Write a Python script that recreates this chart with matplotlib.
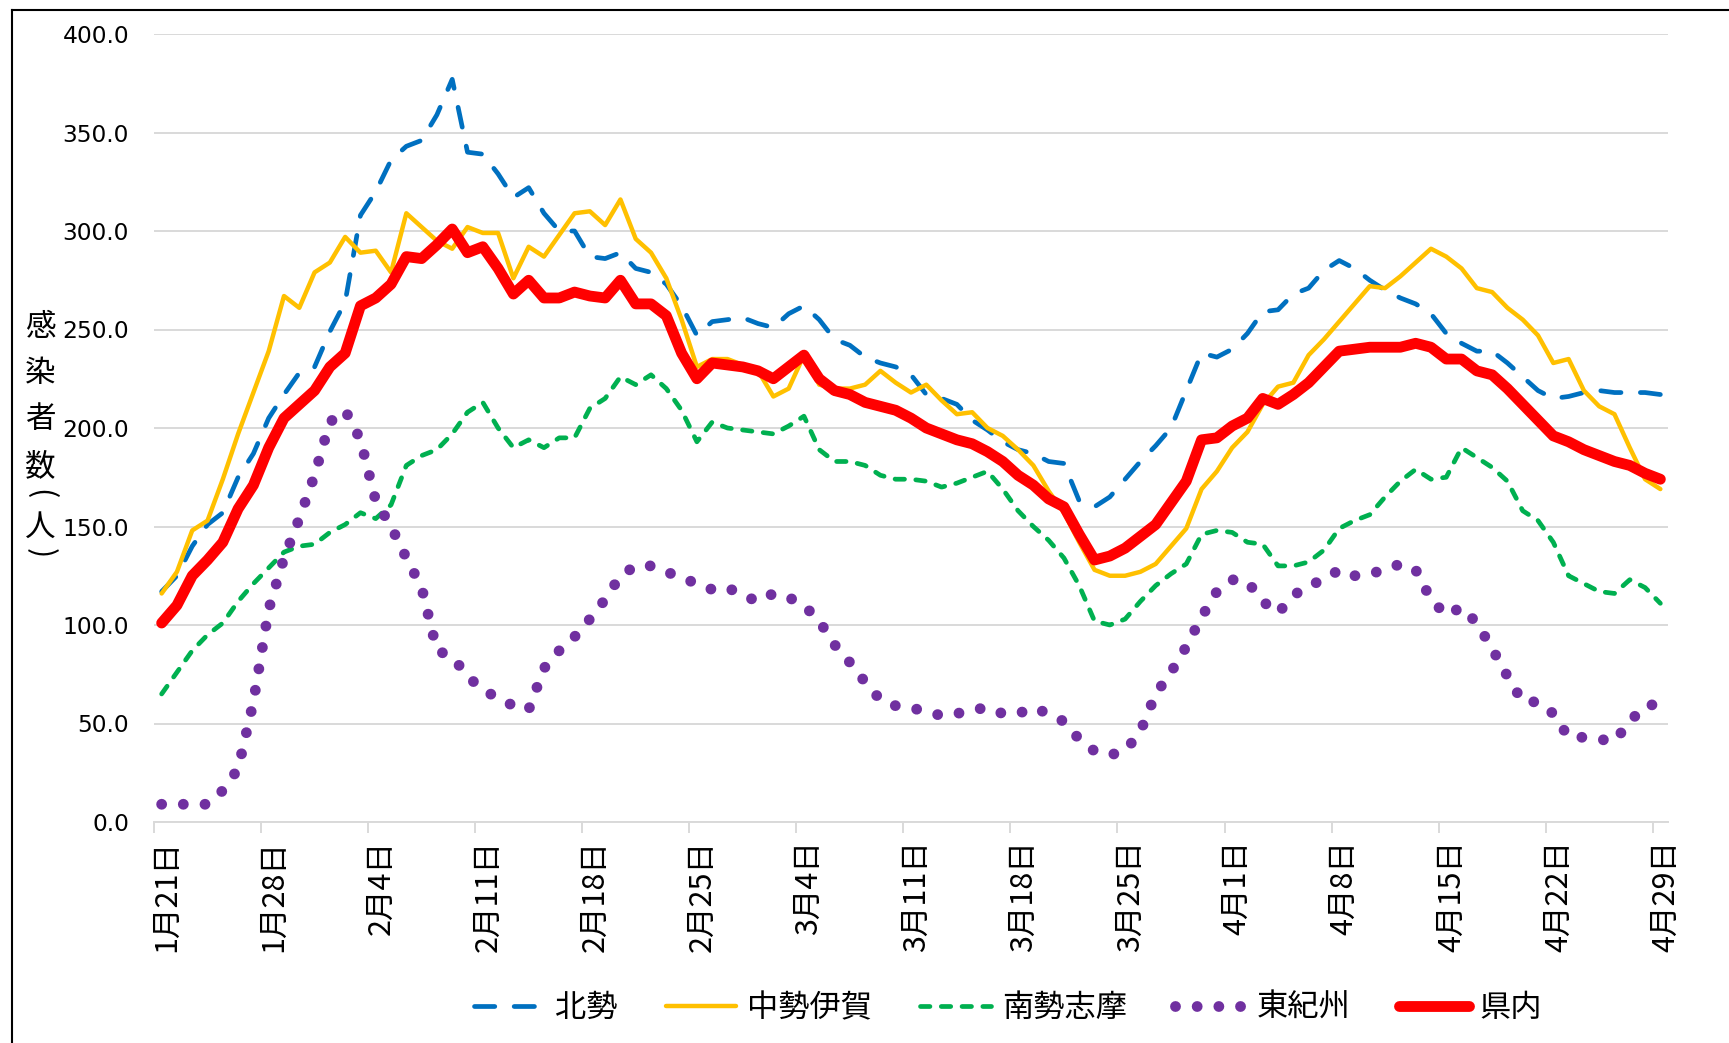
import numpy as np
import matplotlib
matplotlib.use("Agg")
import matplotlib.pyplot as plt
import matplotlib.transforms as mtransforms
from matplotlib.lines import Line2D
from matplotlib.ticker import FixedLocator, FuncFormatter

# ---------------- data ----------------
tick_labels = ["1月21日", "1月28日", "2月4日", "2月11日", "2月18日", "2月25日",
               "3月4日", "3月11日", "3月18日", "3月25日", "4月1日", "4月8日",
               "4月15日", "4月22日", "4月29日"]
series_names = ["北勢", "中勢伊賀", "南勢志摩", "東紀州", "県内"]

hokusei = [117, 125, 140, 151, 157, 175, 187, 205, 217, 228,
           231, 249, 264, 308, 320, 336, 343, 346, 359, 377,
           340, 339, 329, 317, 322, 309, 300, 300, 287, 286,
           289, 281, 279, 273, 262, 247, 254, 255, 256, 253,
           251, 258, 262, 255, 245, 242, 236, 233, 231, 227,
           217, 215, 212, 204, 199, 193, 189, 187, 183, 182,
           163, 160, 165, 174, 183, 191, 200, 219, 238, 236,
           240, 248, 259, 260, 268, 271, 280, 285, 281, 275,
           270, 266, 263, 258, 248, 243, 239, 239, 233, 226,
           219, 215, 216, 218, 219, 218, 218, 218, 217]

chusei_iga = [116, 127, 148, 153, 174, 197, 218, 239, 267, 261,
              279, 284, 297, 289, 290, 279, 309, 302, 295, 291,
              302, 299, 299, 276, 292, 287, 298, 309, 310, 303,
              316, 296, 289, 276, 255, 231, 235, 235, 232, 229,
              216, 220, 237, 222, 220, 220, 222, 229, 223, 218,
              222, 214, 207, 208, 200, 196, 189, 181, 168, 157,
              142, 128, 125, 125, 127, 131, 140, 149, 169, 178,
              190, 198, 212, 221, 223, 237, 245, 254, 263, 272,
              271, 277, 284, 291, 287, 281, 271, 269, 261, 255,
              247, 233, 235, 219, 211, 207, 190, 174, 169]

nansei_shima = [65, 76, 87, 95, 101, 112, 121, 129, 137, 140,
                141, 147, 151, 157, 154, 161, 181, 186, 189, 197,
                208, 213, 200, 190, 194, 190, 195, 195, 210, 215,
                226, 222, 227, 220, 209, 193, 203, 200, 199, 198,
                197, 201, 206, 189, 183, 183, 181, 176, 174, 174,
                173, 170, 172, 175, 178, 169, 158, 150, 143, 134,
                120, 102, 100, 103, 112, 120, 126, 131, 146, 148,
                147, 142, 141, 130, 130, 132, 138, 149, 153, 156,
                165, 173, 179, 174, 175, 190, 185, 180, 173, 158,
                153, 142, 125, 121, 117, 116, 123, 119, 111]

higashi_kishu = [9, 9, 9, 9, 16, 27, 61, 108, 134, 154,
                 176, 203, 209, 194, 163, 150, 134, 119, 87, 84,
                 74, 67, 63, 59, 57, 78, 87, 94, 103, 113,
                 125, 130, 130, 127, 124, 121, 118, 119, 115, 112,
                 116, 114, 110, 102, 90, 81, 71, 62, 59, 58,
                 56, 54, 55, 57, 58, 55, 55, 58, 55, 51,
                 42, 36, 34, 36, 46, 65, 76, 89, 104, 117,
                 123, 122, 112, 106, 115, 120, 123, 128, 125, 126,
                 128, 131, 128, 113, 105, 109, 101, 88, 74, 61,
                 61, 55, 43, 43, 42, 41, 51, 59, 60]

kennai = [101, 110, 125, 133, 142, 159, 171, 190, 205, 212,
          219, 231, 238, 262, 266, 273, 287, 286, 293, 301,
          289, 292, 281, 268, 275, 266, 266, 269, 267, 266,
          275, 263, 263, 257, 238, 225, 233, 232, 231, 229,
          225, 231, 237, 225, 219, 217, 213, 211, 209, 205,
          200, 197, 194, 192, 188, 183, 176, 171, 164, 160,
          146, 133, 135, 139, 145, 151, 162, 173, 194, 195,
          201, 205, 215, 212, 217, 223, 231, 239, 240, 241,
          241, 241, 243, 241, 235, 235, 229, 227, 220, 212,
          204, 196, 193, 189, 186, 183, 181, 177, 174]

y_ticks = [0, 50, 100, 150, 200, 250, 300, 350, 400]

# ---------------- figure ----------------
W, H = 1729, 1043
fig = plt.figure(figsize=(W / 100, H / 100), dpi=100)
ax = fig.add_axes([154 / W, 1 - 822 / H, (1668 - 154) / W, (822 - 34) / H])

x = np.arange(len(kennai))
cjk = ["Noto Sans CJK JP", "DejaVu Sans"]

ax.plot(x, hokusei, color="#0070C0", lw=3.4, dashes=(4.3, 4.1),
        dash_capstyle="round", label=series_names[0], zorder=3)
ax.plot(x, chusei_iga, color="#FFC000", lw=3.2, solid_joinstyle="round",
        solid_capstyle="round", label=series_names[1], zorder=4)
ax.plot(x, nansei_shima, color="#00B050", lw=3.4, dashes=(2.0, 2.4),
        dash_capstyle="round", label=series_names[2], zorder=5)
ax.plot(x, higashi_kishu, color="#7030A0", lw=7.8, dashes=(0.001, 2.0),
        dash_capstyle="round", label=series_names[3], zorder=6)
ax.plot(x, kennai, color="#FF0000", lw=7.8, solid_joinstyle="round",
        solid_capstyle="round", label=series_names[4], zorder=7)

ax.set_xlim(-0.5, len(kennai) - 0.5)
ax.set_ylim(0, 400)

# grid / spines
ax.set_yticks(y_ticks)
ax.yaxis.set_major_formatter(FuncFormatter(lambda v, p: f"{v:.1f}"))
ax.grid(axis="y", color="#D9D9D9", lw=1.4, zorder=0)
ax.set_axisbelow(True)
for s in ["left", "right", "top"]:
    ax.spines[s].set_visible(False)
ax.spines["bottom"].set_color("#D9D9D9")
ax.spines["bottom"].set_linewidth(1.4)

ax.tick_params(axis="y", length=0, pad=18, labelsize=16.8, labelcolor="black")
for t in ax.get_yticklabels():
    t.set_family("DejaVu Sans")

major_pos = list(range(0, len(kennai), 7))
ax.xaxis.set_major_locator(FixedLocator(major_pos))
ax.set_xticklabels(tick_labels, rotation=90, family=cjk, fontsize=22)
ax.xaxis.set_minor_locator(FixedLocator([p - 0.5 for p in major_pos]))
ax.tick_params(axis="x", which="major", length=0, pad=13)
ax.tick_params(axis="x", which="minor", length=8, width=1.4, color="#D9D9D9")
offset = mtransforms.ScaledTranslation(5 / 100, 0, fig.dpi_scale_trans)
for t in ax.get_xticklabels():
    t.set_transform(t.get_transform() + offset)

# y-axis label: vertical stacked characters (parentheses turned for vertical text)
ylab_chars = ["感", "染", "者", "数", "(", "人", ")"]
ylab_rot = [0, 0, 0, 0, -90, 0, -90]
ylab_y = [327, 373, 420, 467, 494, 527, 553]
for ch, rot, yy in zip(ylab_chars, ylab_rot, ylab_y):
    fig.text(40 / W, 1 - yy / H, ch, ha="center", va="center", rotation=rot,
             rotation_mode="anchor", family=cjk, fontsize=22)

# legend
fig.legend(loc="center", bbox_to_anchor=(1008 / W, 1 - 1008 / H), ncol=5,
           frameon=False, prop={"family": cjk, "size": 22.5},
           handlelength=2.25, handletextpad=0.35, columnspacing=1.55)

# figure border (top and left)
fig.add_artist(Line2D([11.5 / W, 1.0], [1 - 9.5 / H, 1 - 9.5 / H],
                      transform=fig.transFigure, color="black", lw=1.5))
fig.add_artist(Line2D([11.5 / W, 11.5 / W], [0.0, 1 - 9.5 / H],
                      transform=fig.transFigure, color="black", lw=1.5))

fig.savefig("out.png", dpi=100)
